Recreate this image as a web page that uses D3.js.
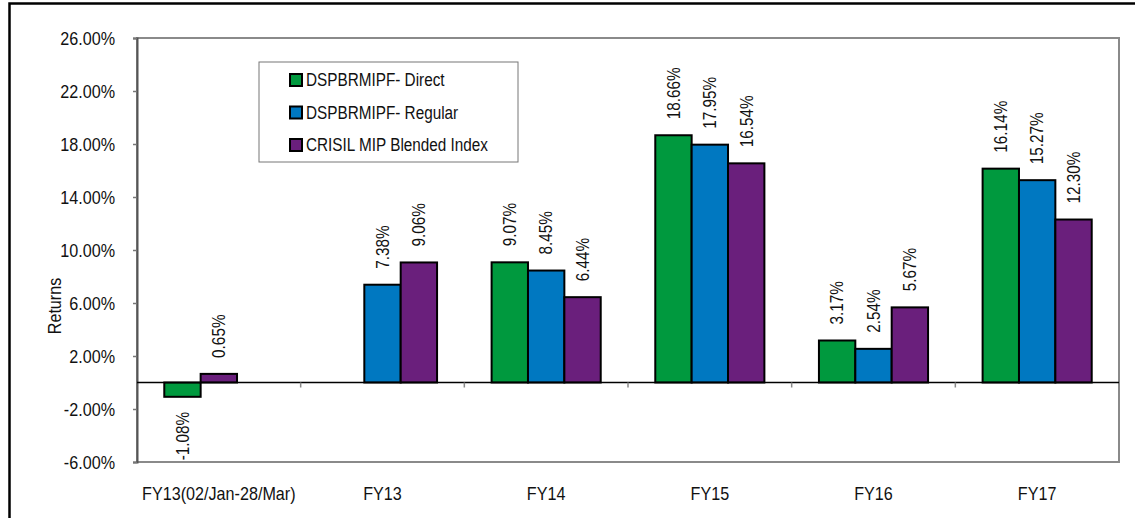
<!DOCTYPE html>
<html lang="en">
<head>
    <meta charset="UTF-8">
    <title>Returns</title>
    <script src="https://cdn.jsdelivr.net/npm/d3@7"></script>
    <style>
        body { margin: 0; background: #fff; }
        svg { display: block; }
        text { font-family: 'Liberation Sans Narrow', 'Arial Narrow', 'Liberation Sans', Arial, sans-serif; fill: #111; }
    </style>
</head>
<body>
    <div id="chart"></div>
    <script>
        const categories = ['FY13(02/Jan-28/Mar)', 'FY13', 'FY14', 'FY15', 'FY16', 'FY17'];
        const seriesNames = ['DSPBRMIPF- Direct', 'DSPBRMIPF- Regular', 'CRISIL MIP Blended Index'];
        const directValues = [-1.08, null, 9.07, 18.66, 3.17, 16.14];
        const regularValues = [null, 7.38, 8.45, 17.95, 2.54, 15.27];
        const crisilValues = [0.65, 9.06, 6.44, 16.54, 5.67, 12.30];
        // in the first period the index bar sits in the second slot
        const crisilSlot = [1, 2, 2, 2, 2, 2];
        const yTicks = [-6, -2, 2, 6, 10, 14, 18, 22, 26];
        const colors = ['#00993e', '#0078c1', '#6a1f7c'];

        const width = 1135, height = 518;
        const plot = { left: 137, top: 38, right: 1119, bottom: 462 };
        const pct = d => d3.format('.2f')(d).replace('\u2212', '-') + '%';

        // squeeze regular glyphs to look like a narrow face
        function narrow(sel, f = 0.85) {
            sel.each(function () {
                const len = this.getComputedTextLength();
                this.setAttribute('textLength', len * f);
                this.setAttribute('lengthAdjust', 'spacingAndGlyphs');
            });
        }

        const svg = d3.select('#chart').append('svg')
            .attr('width', width)
            .attr('height', height);

        // outer frame (cut off at right and bottom)
        svg.append('rect')
            .attr('x', 9.5).attr('y', 3.5)
            .attr('width', 1300).attr('height', 700)
            .attr('fill', 'none')
            .attr('stroke', '#000')
            .attr('stroke-width', 2.5);

        const x = d3.scaleBand()
            .domain(categories)
            .range([plot.left, plot.right]);

        const slot = d3.scaleBand()
            .domain([0, 1, 2])
            .range([x.bandwidth() / 6, x.bandwidth() * 5 / 6]);

        const y = d3.scaleLinear()
            .domain([-6, 26])
            .range([plot.bottom, plot.top]);

        // plot area border
        svg.append('rect')
            .attr('x', plot.left).attr('y', plot.top)
            .attr('width', plot.right - plot.left)
            .attr('height', plot.bottom - plot.top)
            .attr('fill', '#fff')
            .attr('stroke', '#8a8a8a')
            .attr('stroke-width', 2);

        // y axis
        const yAxis = svg.append('g')
            .attr('transform', `translate(${plot.left},0)`)
            .call(d3.axisLeft(y).tickValues(yTicks).tickSize(4).tickPadding(18).tickFormat(pct));
        yAxis.select('.domain').attr('stroke', '#555').attr('stroke-width', 2);
        yAxis.selectAll('.tick line').attr('stroke', '#777').attr('stroke-width', 1.5);
        yAxis.selectAll('.tick text')
            .attr('font-size', 19)
            .attr('fill', '#111')
            .style('font-family', "'Liberation Sans Narrow', 'Arial Narrow', 'Liberation Sans', Arial, sans-serif")
            .call(narrow);

        svg.append('text')
            .attr('transform', 'translate(54,306) rotate(-90)')
            .attr('text-anchor', 'middle')
            .attr('dy', '0.35em')
            .attr('font-size', 19)
            .text('Returns')
            .call(narrow);

        // bars
        const bars = [];
        categories.forEach((c, i) => {
            [directValues, regularValues, crisilValues].forEach((vals, s) => {
                if (vals[i] == null) return;
                const pos = s === 2 ? crisilSlot[i] : s;
                bars.push({ cat: c, series: s, slot: pos, value: vals[i] });
            });
        });

        svg.append('g').selectAll('rect')
            .data(bars)
            .enter()
            .append('rect')
            .attr('x', d => x(d.cat) + slot(d.slot))
            .attr('y', d => y(Math.max(0, d.value)))
            .attr('width', slot.bandwidth())
            .attr('height', d => Math.abs(y(d.value) - y(0)))
            .attr('fill', d => colors[d.series])
            .attr('stroke', '#000')
            .attr('stroke-width', 2);

        // zero line and category ticks
        svg.append('line')
            .attr('x1', plot.left).attr('x2', plot.right)
            .attr('y1', y(0)).attr('y2', y(0))
            .attr('stroke', '#000')
            .attr('stroke-width', 1.5);

        svg.append('g').selectAll('line')
            .data(categories.slice(1))
            .enter()
            .append('line')
            .attr('x1', d => x(d)).attr('x2', d => x(d))
            .attr('y1', y(0)).attr('y2', y(0) + 5)
            .attr('stroke', '#888')
            .attr('stroke-width', 1.5);

        // value labels
        svg.append('g').selectAll('text')
            .data(bars)
            .enter()
            .append('text')
            .attr('transform', d => {
                const cx = x(d.cat) + slot(d.slot) + slot.bandwidth() / 2;
                const cy = d.value >= 0 ? y(d.value) - 16 : y(d.value) + 15;
                return `translate(${cx},${cy}) rotate(-90)`;
            })
            .attr('text-anchor', d => d.value >= 0 ? 'start' : 'end')
            .attr('dy', '0.35em')
            .attr('font-size', 18)
            .text(d => pct(d.value))
            .call(narrow);

        // category labels
        svg.append('g').selectAll('text')
            .data(categories)
            .enter()
            .append('text')
            .attr('x', d => x(d) + x.bandwidth() / 2)
            .attr('y', 493)
            .attr('dy', '0.35em')
            .attr('text-anchor', 'middle')
            .attr('font-size', 19)
            .text(d => d)
            .call(narrow);

        // legend
        const legend = svg.append('g').attr('transform', 'translate(259,62)');
        legend.append('rect')
            .attr('width', 259).attr('height', 100)
            .attr('fill', '#fff')
            .attr('stroke', '#777')
            .attr('stroke-width', 1);

        const item = legend.selectAll('g.item')
            .data(seriesNames)
            .enter()
            .append('g')
            .attr('class', 'item')
            .attr('transform', (d, i) => `translate(31,${18 + i * 32.5})`);

        item.append('rect')
            .attr('x', 0).attr('y', -6)
            .attr('width', 12).attr('height', 12)
            .attr('fill', (d, i) => colors[i])
            .attr('stroke', '#000')
            .attr('stroke-width', 2);

        item.append('text')
            .attr('x', 16)
            .attr('dy', '0.35em')
            .attr('font-size', 18)
            .text(d => d)
            .call(narrow);
    </script>
</body>
</html>
